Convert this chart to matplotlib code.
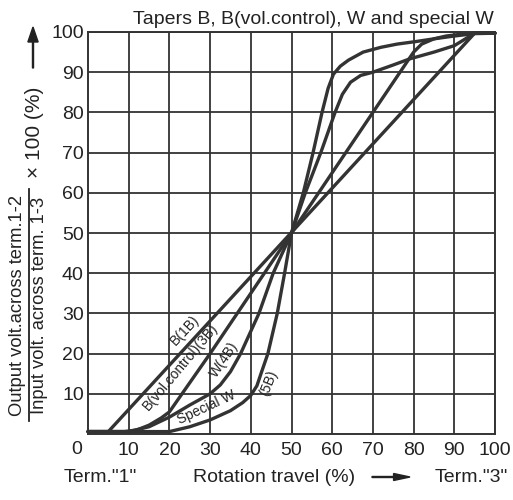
import matplotlib
matplotlib.use("Agg")
import matplotlib.pyplot as plt
from matplotlib.lines import Line2D

plt.rcParams['font.family'] = ['Liberation Sans', 'DejaVu Sans']

# taper curves: rotation travel (%) -> output ratio (%)
b1_x = [0, 5, 95, 100]
b1_y = [0.6, 0.6, 99.7, 99.7]

b3_x = [0, 9, 12, 15, 18, 20, 30, 40, 50, 60, 70, 80, 82, 85, 88, 92, 95, 100]
b3_y = [0.6, 0.6, 1.0, 2.2, 4.0, 5.5, 20, 35, 50, 65, 80, 95, 97, 98.3, 99, 99.5, 99.7, 99.7]

w4_x = [0, 10, 15, 20, 25, 30, 32.5, 35, 37.5, 42, 45.5, 50, 53.4, 57.2, 60.7,
        62.5, 64.5, 67, 70, 75, 79, 85, 90, 95, 100]
w4_y = [0.6, 0.6, 1.8, 4.2, 7.2, 10, 12.2, 15.5, 20, 30, 40, 50, 60, 70, 80,
        84.5, 87.5, 89.2, 90, 91.8, 93.3, 95, 96.6, 99.7, 99.7]

w5_x = [0, 20, 25, 30, 35, 38, 40, 41.5, 42.5, 44.2, 46.5, 48.3, 50, 52.9, 55.3,
        57.5, 59, 60.3, 62, 64, 67.6, 72, 76, 80.4, 85, 90, 95, 100]
w5_y = [0.6, 0.6, 1.8, 3.5, 5.8, 7.8, 9.6, 12, 15, 20, 30, 40, 50, 60, 70,
        80, 86, 89.5, 91.5, 93, 95, 96.2, 97, 97.6, 98.3, 99, 99.6, 99.7]

ticks = [10, 20, 30, 40, 50, 60, 70, 80, 90, 100]

# curve labels: text, x, y, angle
labels = [
    ("B(1B)", 23.8, 25.9, 47),
    ("B(vol.control)(3B)", 22.7, 16.8, 50),
    ("W(4B)", 33.4, 18.6, 56),
    ("Special W", 29.2, 6.7, 25),
    ("(5B)", 44.4, 12.6, 68),
]

fig = plt.figure(figsize=(5.13, 5.0), dpi=100)
ax = fig.add_axes([88 / 513, 1 - 434 / 500, 407 / 513, 402 / 500])

ax.set_xlim(0, 100)
ax.set_ylim(0, 100)
ax.set_xticks(ticks)
ax.set_yticks(ticks)
ax.set_xticklabels([str(t) for t in ticks])
ax.set_yticklabels([str(t) for t in ticks])
ax.tick_params(length=0, labelsize=14, colors='#222222')
ax.tick_params(axis='x', pad=6)
ax.tick_params(axis='y', pad=3)
ax.grid(True, color='#333333', lw=1.3)
for s in ax.spines.values():
    s.set_color('#333333')
    s.set_linewidth(1.4)

for xs, ys in [(b1_x, b1_y), (b3_x, b3_y), (w4_x, w4_y), (w5_x, w5_y)]:
    ax.plot(xs, ys, color='#333333', lw=2.4, solid_capstyle='round', clip_on=False)

for txt, lx, ly, ang in labels:
    ax.text(lx, ly, txt, rotation=ang, rotation_mode='anchor', ha='center', va='center',
            fontsize=10, color='#222222')

# title and axis annotations
fig.text(494 / 513, 1 - 19 / 500, "Tapers B, B(vol.control), W and special W",
         ha='right', va='center', fontsize=14, color='#222222')
fig.text(77 / 513, 1 - 449 / 500, "0", ha='center', va='center', fontsize=14, color='#222222')

fig.text(100 / 513, 1 - 477 / 500, 'Term."1"', ha='center', va='center', fontsize=14, color='#222222')
fig.text(274 / 513, 1 - 477 / 500, 'Rotation travel (%)', ha='center', va='center', fontsize=14, color='#222222')
fig.text(471 / 513, 1 - 477 / 500, 'Term."3"', ha='center', va='center', fontsize=14, color='#222222')
fig.patches.append(matplotlib.patches.FancyArrow(
    372 / 513, 1 - 477 / 500, 38 / 513, 0, width=0.002, head_width=0.014, head_length=0.032,
    length_includes_head=True, color='#222222', transform=fig.transFigure))

fig.text(18 / 513, 1 - 305 / 500, "Output volt.across term.1-2", rotation=90,
         ha='center', va='center', fontsize=13.2, color='#222222')
fig.text(40 / 513, 1 - 305 / 500, "Input volt. across term. 1-3", rotation=90,
         ha='center', va='center', fontsize=13.2, color='#222222')
fig.lines.append(Line2D([29 / 513, 29 / 513], [1 - 421 / 500, 1 - 189 / 500],
                        color='#222222', lw=1.3, transform=fig.transFigure))
fig.text(35 / 513, 1 - 132 / 500, "\u00d7 100 (%)", rotation=90,
         ha='center', va='center', fontsize=15, color='#222222')
fig.patches.append(matplotlib.patches.FancyArrow(
    33 / 513, 1 - 68 / 500, 0, 41 / 500, width=0.002, head_width=0.02, head_length=0.03,
    length_includes_head=True, color='#222222', transform=fig.transFigure))

fig.savefig("out.png", dpi=100, facecolor='white')
